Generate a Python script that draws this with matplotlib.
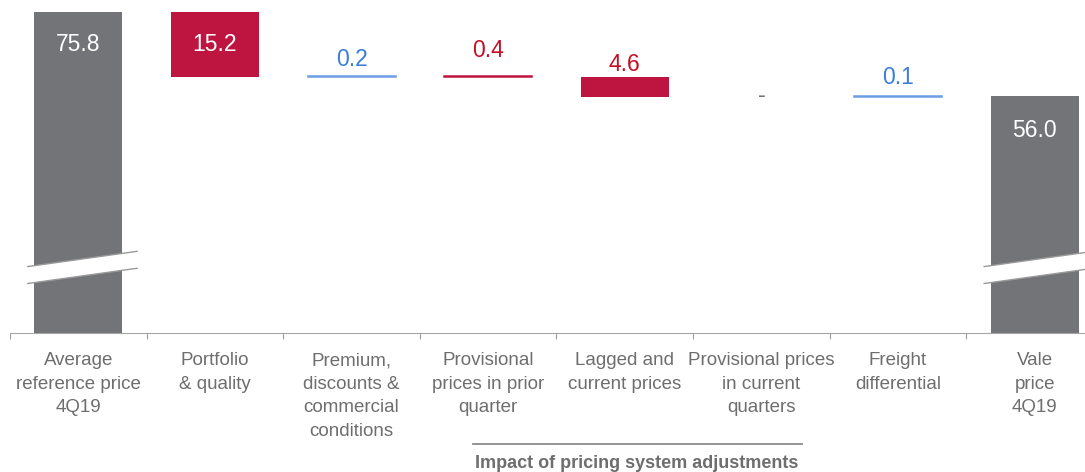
import numpy as np
import matplotlib.pyplot as plt
from matplotlib.patches import Polygon

# datos del waterfall
categories = ['Average\nreference price\n4Q19', 'Portfolio\n& quality',
              'Premium,\ndiscounts &\ncommercial\nconditions',
              'Provisional\nprices in prior\nquarter', 'Lagged and\ncurrent prices',
              'Provisional prices\nin current\nquarters', 'Freight\ndifferential',
              'Vale\nprice\n4Q19']
start_value = 75.8
deltas = [-15.2, 0.2, -0.4, -4.6, 0.0, 0.1]
end_value = 56.0
value_labels = ['75.8', '15.2', '0.2', '0.4', '4.6', '-', '0.1', '56.0']
group_label = 'Impact of pricing system adjustments'

GRAY = '#737477'
RED = '#BE1540'
RED_TXT = '#C40F24'
BLUE_LINE = '#6C9EE6'
BLUE_TXT = '#3C7DD9'
LBL = '#6E6E6E'

fig = plt.figure(figsize=(10.85, 4.72), dpi=100)
ax = fig.add_axes([10/1085, 139/472, 1093/1085, 330/472])
ax.set_xlim(-0.5, 7.5)
ax.set_ylim(0, 78)
w = 0.645

# barras
bottoms, heights, colors = [0], [start_value], [GRAY]
running = start_value
for d in deltas:
    bottoms.append(min(running, running + d))
    heights.append(abs(d))
    colors.append(RED if d < 0 else BLUE_LINE)
    running += d
bottoms.append(0)
heights.append(end_value)
colors.append(GRAY)

x = np.arange(len(categories))
for i in range(len(x)):
    if heights[i] == 0:
        continue
    big = heights[i] > 1
    ax.bar(x[i], heights[i], bottom=bottoms[i], width=w, color=colors[i],
           edgecolor=colors[i], linewidth=0 if big else 1.1)

# etiquetas de valores
offsets = {2: 16, 3: 25, 4: 13, 6: 19}   # px sobre la barra
for i in range(len(x)):
    top = bottoms[i] + heights[i]
    if i in (0, 1, 7):
        ax.annotate(value_labels[i], (x[i], top), xytext=(0, -23 if i != 7 else -25),
                    textcoords='offset points', ha='center', va='center',
                    color='white', fontsize=16.5, family='Liberation Sans')
    elif heights[i] == 0:
        ax.annotate(value_labels[i], (x[i], bottoms[i]), xytext=(0, 1),
                    textcoords='offset points', ha='center', va='center',
                    color='#707070', fontsize=17, family='Liberation Sans')
    else:
        col = BLUE_TXT if colors[i] == BLUE_LINE else RED_TXT
        ax.annotate(value_labels[i], (x[i], top), xytext=(0, offsets[i] * 0.72),
                    textcoords='offset points', ha='center', va='center',
                    color=col, fontsize=16.5, family='Liberation Sans')

# marcas de corte del eje
for i in (0, 7):
    y0, rise, gap = 15.7, 3.6, 4.0
    xl, xr = x[i] - 0.37, x[i] + 0.43
    ax.add_patch(Polygon([[xl, y0], [xr, y0 + rise], [xr, y0 + rise - gap], [xl, y0 - gap]],
                         closed=True, facecolor='white', edgecolor='none', zorder=3))
    ax.plot([xl, xr], [y0, y0 + rise], color='#9A9A9A', lw=1, zorder=4)
    ax.plot([xl, xr], [y0 - gap, y0 + rise - gap], color='#9A9A9A', lw=1, zorder=4)

# ejes
for s in ['top', 'right', 'left']:
    ax.spines[s].set_visible(False)
ax.spines['bottom'].set_color('#A6A6A6')
ax.set_yticks([])
ax.set_xticks(np.arange(-0.5, 8, 1))
ax.tick_params(which='major', length=4, color='#A0A0A0', labelbottom=False)
ax.set_xticks(x, minor=True)
ax.set_xticklabels(categories, minor=True)
ax.tick_params(which='minor', length=0, pad=14, labelsize=13.5, labelcolor=LBL)
for lbl in ax.get_xticklabels(minor=True):
    lbl.set_family('Liberation Sans')
    lbl.set_linespacing(1.5)

# agrupador
tr = ax.get_xaxis_transform()
ax.plot([2.89, 5.3], [-0.336, -0.336], transform=tr, color='#8C8C8C', lw=1.3, clip_on=False)
ax.text(4.09, -0.395, group_label, transform=tr, ha='center', va='center',
        fontsize=13, fontweight='bold', color=LBL, family='Liberation Sans')

fig.savefig('out.png', dpi=100)
